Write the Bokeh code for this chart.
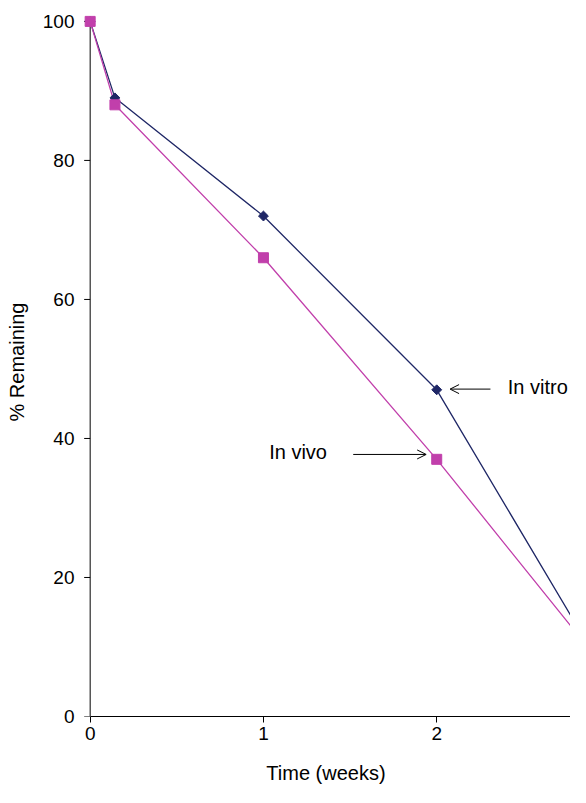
from bokeh.plotting import figure
from bokeh.models import Range1d, Arrow, OpenHead, FixedTicker
from bokeh.core.properties import value
from bokeh.embed import file_html
from bokeh.resources import INLINE
import math

# ---- data ----
time_weeks = [0, 0.143, 1, 2, 3]
in_vitro = [100, 89, 72, 47, 5]
in_vivo = [100, 88, 66, 37, 6]
x_ticks = [0, 1, 2]
y_ticks = [0, 20, 40, 60, 80, 100]

NAVY = "#1F2766"
MAGENTA = "#C13FAB"
FONT = "Liberation Sans"

p = figure(width=570, height=787, output_backend="svg", toolbar_location=None,
           x_range=Range1d(-0.05, 2.772), y_range=Range1d(0, 102),
           min_border_left=81, min_border_right=0, min_border_top=7,
           min_border_bottom=71)
p.outline_line_color = None
p.xgrid.visible = False
p.ygrid.visible = False
p.background_fill_color = "white"
p.border_fill_color = "white"

for ax in (p.xaxis[0], p.yaxis[0]):
    ax.axis_line_color = "black"
    ax.axis_line_width = 1
    ax.major_tick_line_color = "black"
    ax.major_tick_in = 0
    ax.major_tick_out = 6
    ax.minor_tick_line_color = None
    ax.major_label_text_font = FONT
    ax.major_label_text_font_size = "19px"
    ax.major_label_text_color = "black"
    ax.axis_label_text_font = FONT
    ax.axis_label_text_font_size = "20px"
    ax.axis_label_text_font_style = "normal"
    ax.axis_label_text_color = "black"

p.xaxis.ticker = FixedTicker(ticks=x_ticks)
p.yaxis.ticker = FixedTicker(ticks=y_ticks)
p.xaxis.bounds = (0, 3)
p.xaxis.axis_label = "Time (weeks)"
p.xaxis.major_label_standoff = 4
p.xaxis.axis_label_standoff = 19

# y axis: labels from the standard axis, line and ticks drawn at x = 0
p.yaxis.axis_label = "% Remaining"
p.yaxis.axis_line_color = None
p.yaxis.major_tick_line_color = None
p.yaxis.major_tick_out = 0
p.yaxis.major_label_standoff = 7
p.yaxis.axis_label_standoff = 12

p.segment(x0=[0], y0=[min(y_ticks)], x1=[0], y1=[max(y_ticks)],
          line_color="black", line_width=1)
p.ray(x=[0] * len(y_ticks), y=y_ticks, length=6, length_units="screen",
      angle=math.pi, line_color="black", line_width=1)

# lines
p.line(time_weeks, in_vitro, line_color=NAVY, line_width=1.3)
p.line(time_weeks, in_vivo, line_color=MAGENTA, line_width=1.3)
# markers
p.scatter(time_weeks, in_vitro, marker="square", size=7, angle=math.pi / 4,
          fill_color=NAVY, line_color=NAVY, line_width=1)
p.scatter(time_weeks, in_vivo, marker="square", size=10,
          fill_color=MAGENTA, line_color=MAGENTA, line_width=1)

# annotations
p.text(x=[2.41], y=[47.4], text=["In vitro"], text_font=value(FONT),
       text_font_size="20px", text_align="left", text_baseline="middle",
       text_color="black")
p.text(x=[1.033], y=[38.0], text=["In vivo"], text_font=value(FONT),
       text_font_size="20px", text_align="left", text_baseline="middle",
       text_color="black")
p.add_layout(Arrow(x_start=2.31, y_start=47.1, x_end=2.077, y_end=47.1,
                   line_color="black", line_width=1,
                   end=OpenHead(size=9, line_width=1, line_color="black")))
p.add_layout(Arrow(x_start=1.518, y_start=37.7, x_end=1.939, y_end=37.7,
                   line_color="black", line_width=1,
                   end=OpenHead(size=9, line_width=1, line_color="black")))

open("out.html", "w").write(file_html(p, INLINE))
